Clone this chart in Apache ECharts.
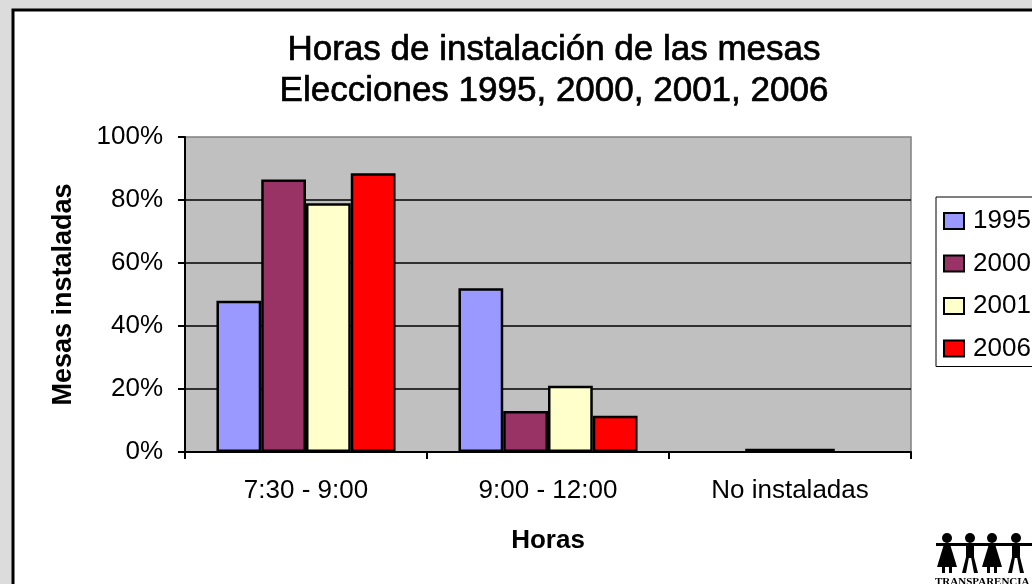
<!DOCTYPE html>
<html><head><meta charset="utf-8">
<script src="https://cdn.jsdelivr.net/npm/echarts@6/dist/echarts.min.js"></script>
<style>html,body{margin:0;padding:0;background:#dcdcdc}#c{width:1032px;height:584px}</style>
</head><body><div id="c"></div>
<script>
const categories = ['7:30 - 9:00', '9:00 - 12:00', 'No instaladas'];
const years = ['1995', '2000', '2001', '2006'];
const v1995 = [48, 52, 0];
const v2000 = [86.5, 13, 1];
const v2001 = [79, 21, 1];
const v2006 = [88.5, 11.5, 0];
const colors = ['#9999ff', '#993366', '#ffffcc', '#ff0000'];
const yTicks = [0, 20, 40, 60, 80, 100];
const titleLines = ['Horas de instalación de las mesas', 'Elecciones 1995, 2000, 2001, 2006'];

const FONT = "'Liberation Sans', Arial, sans-serif";
const seriesData = [v1995, v2000, v2001, v2006];
const chart = echarts.init(document.getElementById('c'), null, {renderer: 'canvas'});

// simple logo figures (decoration)
const logo = [];
const figX = [947, 970, 992, 1016];
logo.push({type: 'rect', shape: {x: 936, y: 543, width: 100, height: 3}, style: {fill: '#000'}});
figX.forEach((x, i) => {
  logo.push({type: 'circle', shape: {cx: x, cy: 538, r: 5}, style: {fill: '#000'}});
  if (i % 2 === 0) {
    logo.push({type: 'polygon', shape: {points: [[x - 3, 544], [x + 3, 544], [x + 10, 567], [x - 10, 567]]}, style: {fill: '#000'}});
    logo.push({type: 'rect', shape: {x: x - 5, y: 566, width: 3, height: 7}, style: {fill: '#000'}});
    logo.push({type: 'rect', shape: {x: x + 2, y: 566, width: 3, height: 7}, style: {fill: '#000'}});
  } else {
    logo.push({type: 'rect', shape: {x: x - 4, y: 544, width: 8, height: 14}, style: {fill: '#000'}});
    logo.push({type: 'polygon', shape: {points: [[x - 4, 557], [x - 1, 557], [x - 4, 573], [x - 8, 573]]}, style: {fill: '#000'}});
    logo.push({type: 'polygon', shape: {points: [[x + 1, 557], [x + 4, 557], [x + 8, 573], [x + 4, 573]]}, style: {fill: '#000'}});
  }
});
logo.push({type: 'text', style: {x: 935, y: 577, text: 'TRANSPARENCIA', fontFamily: "'Liberation Serif', serif", fontWeight: 'bold', fontSize: 11, fill: '#000'}});

chart.setOption({
  backgroundColor: '#dcdcdc',
  animation: false,
  textStyle: {fontFamily: FONT},
  graphic: [
    {type: 'rect', z: -10, shape: {x: 13, y: 10, width: 1040, height: 600}, style: {fill: '#fff', stroke: '#000', lineWidth: 3}},
    ...logo
  ],
  title: {
    text: titleLines.join('\n'),
    left: 549,
    textAlign: 'center',
    top: 25,
    textStyle: {fontFamily: FONT, fontSize: 35, fontWeight: 'normal', color: '#000', lineHeight: 41,
      textBorderColor: '#000', textBorderWidth: 0.7}
  },
  legend: {
    orient: 'vertical',
    left: 936,
    top: 197,
    padding: [11, 20, 5, 7],
    itemGap: 16.5,
    itemWidth: 20,
    itemHeight: 16,
    backgroundColor: '#fff',
    borderColor: '#000',
    borderWidth: 1,
    borderRadius: 0,
    icon: 'rect',
    itemStyle: {borderColor: '#000', borderWidth: 2},
    textStyle: {fontFamily: FONT, fontSize: 26, color: '#000', padding: [0, 0, 0, 4]},
    data: years
  },
  grid: {
    left: 185, right: 121, top: 137, bottom: 132,
    show: true, backgroundColor: '#c0c0c0', borderColor: '#808080', borderWidth: 1.5
  },
  xAxis: {
    type: 'category',
    data: categories,
    name: 'Horas',
    nameLocation: 'middle',
    nameGap: 76,
    nameTextStyle: {fontFamily: FONT, fontSize: 26, fontWeight: 'bold', color: '#000'},
    axisLine: {lineStyle: {color: '#000', width: 2}},
    axisTick: {show: true, length: 7, lineStyle: {color: '#000', width: 2}},
    axisLabel: {fontFamily: FONT, fontSize: 26, color: '#000', margin: 26},
    splitLine: {show: false}
  },
  yAxis: {
    type: 'value',
    min: 0, max: 100, interval: 20,
    name: 'Mesas instaladas',
    nameLocation: 'middle',
    nameGap: 108,
    nameTextStyle: {fontFamily: FONT, fontSize: 27, fontWeight: 'bold', color: '#000'},
    axisLine: {show: true, lineStyle: {color: '#000', width: 2}},
    axisTick: {show: true, length: 7, lineStyle: {color: '#000', width: 2}},
    axisLabel: {fontFamily: FONT, fontSize: 26, color: '#000', margin: 22, formatter: v => yTicks.includes(v) ? v + '%' : ''},
    splitLine: {show: true, showMaxLine: false, lineStyle: {color: '#000', width: 1.5}}
  },
  series: years.map((y, i) => ({
    name: y,
    type: 'bar',
    data: seriesData[i].map(v => v === 0 ? {value: v, itemStyle: {borderWidth: 0}} : v),
    barGap: '0%',
    barCategoryGap: '26%',
    itemStyle: {color: colors[i], borderColor: '#000', borderWidth: 2.5}
  }))
});
</script></body></html>
